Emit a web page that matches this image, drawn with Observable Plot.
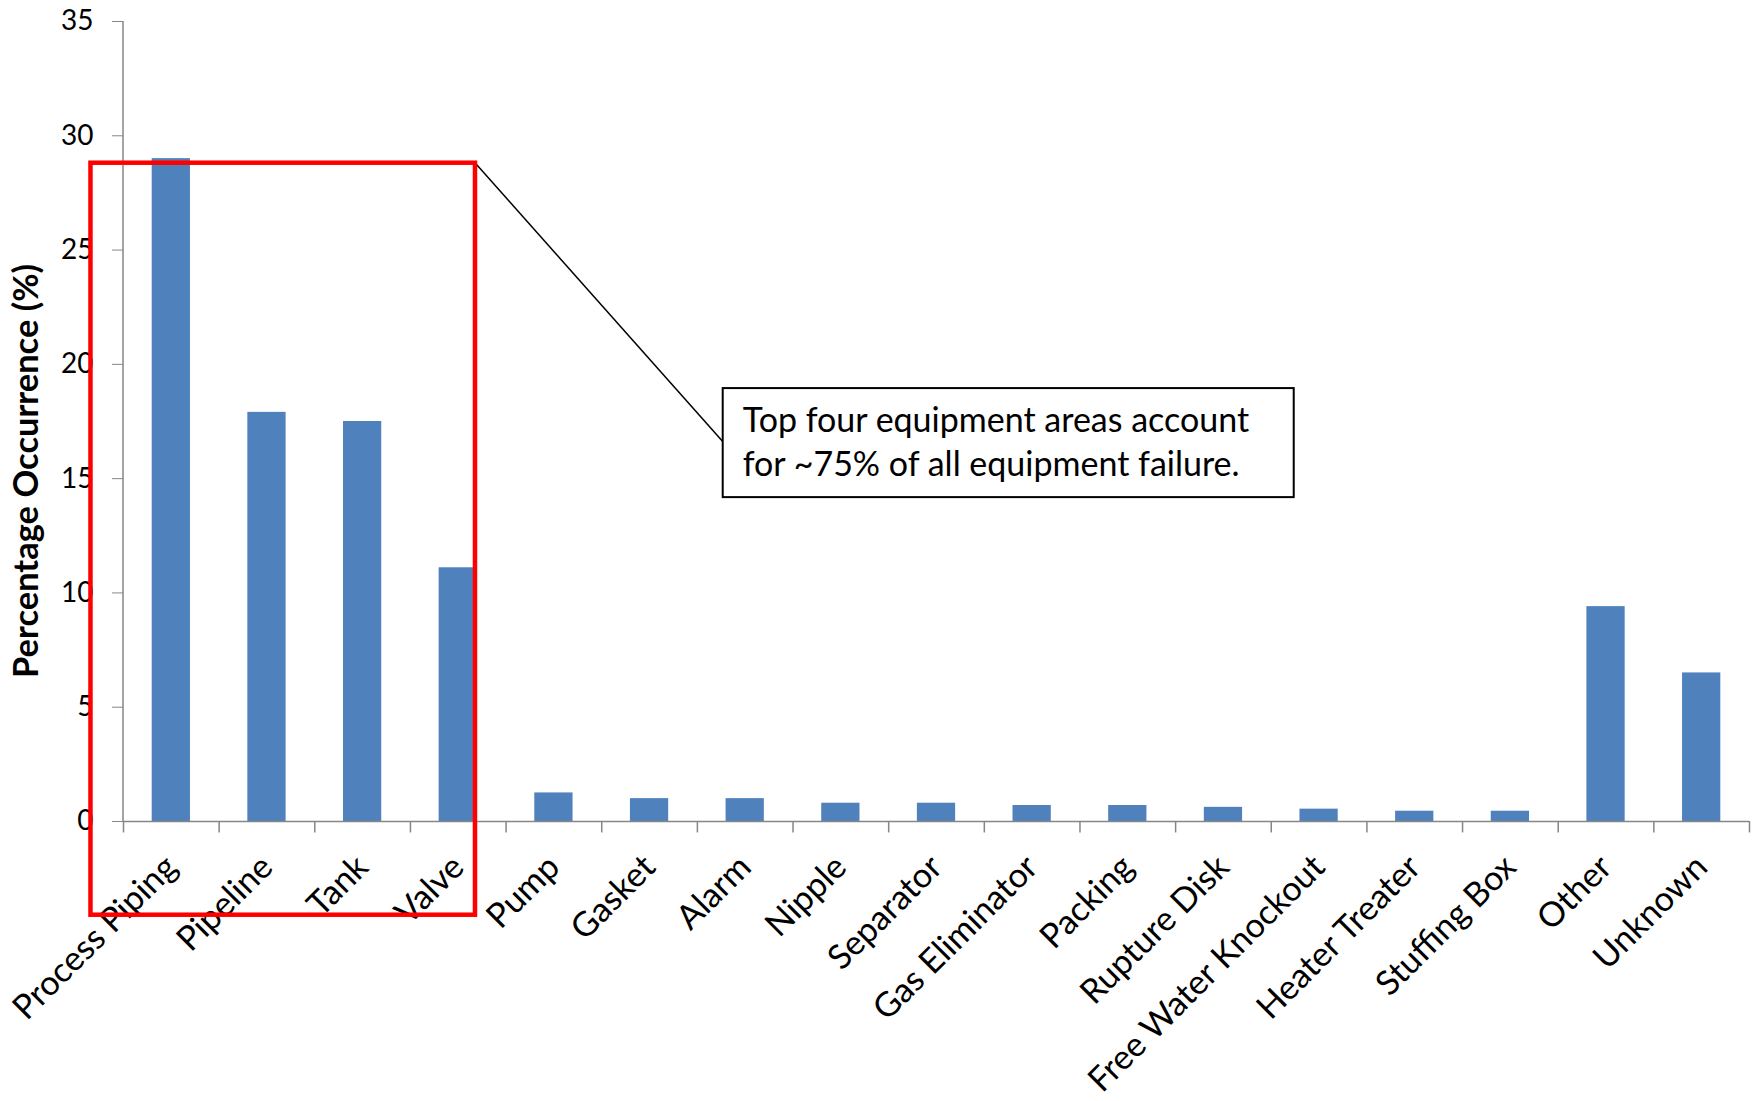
<!DOCTYPE html>
<html><head><meta charset="utf-8">
<script src="https://cdn.jsdelivr.net/npm/d3@7"></script>
<script src="https://cdn.jsdelivr.net/npm/@observablehq/plot@0.6"></script>
<style>
body{margin:0;background:#fff;}
#chart svg{display:block;}
</style>
</head><body><div id="chart"></div>
<script>
const categories = ["Process Piping","Pipeline","Tank","Valve","Pump","Gasket","Alarm","Nipple","Separator","Gas Eliminator","Packing","Rupture Disk","Free Water Knockout","Heater Treater","Stuffing Box","Other","Unknown"];
const values = [29.0, 17.9, 17.5, 11.1, 1.25, 1.0, 1.0, 0.8, 0.8, 0.7, 0.7, 0.62, 0.54, 0.45, 0.45, 9.4, 6.5];
const yTicks = [0, 5, 10, 15, 20, 25, 30, 35];
const yTitle = "Percentage Occurrence (%)";
const noteLines = ["Top four equipment areas account", "for ~75% of all equipment failure."];
// highlight frame around the top four categories (x in category-step units, y in data units)
const highlight = {x0: -0.34, x1: 3.68, yTop: 28.8, yBottom: -4.1};
// annotation box (x in category-step units, y in data units)
const note = {x0: 6.27, x1: 12.24, yTop: 18.94, yBottom: 14.17, yLink: 16.6};

const data = categories.map((c, i) => ({category: c, value: values[i]}));

const W = 1758, H = 1101, mL = 123, mR = 9, mT = 21, mB = 280;
const step = (W - mL - mR) / categories.length;
const FONT = "Lato, 'Open Sans', sans-serif";

const chart = Plot.plot({
  width: W, height: H,
  marginLeft: mL, marginRight: mR, marginTop: mT, marginBottom: mB,
  style: {fontFamily: FONT, background: "#fff", color: "#000"},
  x: {domain: categories, paddingInner: 0.6, paddingOuter: 0.3, round: false, label: null},
  y: {domain: [0, 35], label: null},
  marks: [
    Plot.barY(data, {x: "category", y: "value", fill: "#4F81BD"}),
    Plot.ruleY([0], {stroke: "#868686", strokeWidth: 1.5}),
    Plot.ruleX(categories, {x: d => d, y1: 0, y2: -0.5, dx: -step / 2, stroke: "#868686", strokeWidth: 1.5}),
    Plot.ruleX([categories[categories.length - 1]], {x: d => d, y1: 0, y2: -0.5, dx: step / 2, stroke: "#868686", strokeWidth: 1.5}),
    Plot.axisY({ticks: yTicks, tickSize: 11, tickPadding: 19, stroke: "#868686", fill: "#000", fontSize: 28, label: null}),
    Plot.axisX({tickSize: 0, tickRotate: -45, tickPadding: 40, fill: "#000", fontSize: 34, label: null})
  ]
});
document.getElementById("chart").appendChild(chart);

const xs = chart.scale("x"), ys = chart.scale("y");
const svg = d3.select(chart);
const px = u => xs.range[0] + u * xs.step;
const py = v => ys.apply(v);

// y axis line
svg.append("line")
  .attr("x1", xs.range[0]).attr("x2", xs.range[0])
  .attr("y1", py(35)).attr("y2", py(0))
  .attr("stroke", "#868686").attr("stroke-width", 1.5);

// y title
svg.append("text")
  .attr("transform", `translate(${38},${(py(0) + py(35)) / 2 + 50}) rotate(-90)`)
  .attr("text-anchor", "middle")
  .attr("font-family", FONT).attr("font-weight", "bold").attr("font-size", 34.5)
  .attr("fill", "#000")
  .text(yTitle);

// connector line
svg.append("line")
  .attr("x1", px(highlight.x1)).attr("y1", py(highlight.yTop))
  .attr("x2", px(note.x0)).attr("y2", py(note.yLink))
  .attr("stroke", "#000").attr("stroke-width", 1.5);

// highlight rectangle
svg.append("rect")
  .attr("x", px(highlight.x0)).attr("y", py(highlight.yTop))
  .attr("width", px(highlight.x1) - px(highlight.x0))
  .attr("height", py(highlight.yBottom) - py(highlight.yTop))
  .attr("fill", "none").attr("stroke", "#FF0000").attr("stroke-width", 4.5);

// annotation box
const bx = px(note.x0), by = py(note.yTop);
svg.append("rect")
  .attr("x", bx).attr("y", by)
  .attr("width", px(note.x1) - bx).attr("height", py(note.yBottom) - by)
  .attr("fill", "#fff").attr("stroke", "#000").attr("stroke-width", 2);
noteLines.forEach((t, i) => {
  svg.append("text")
    .attr("x", bx + 20).attr("y", by + 44 + i * 44)
    .attr("text-anchor", "start")
    .attr("font-family", FONT).attr("font-size", 34).attr("fill", "#000")
    .text(t);
});
</script>
</body></html>
